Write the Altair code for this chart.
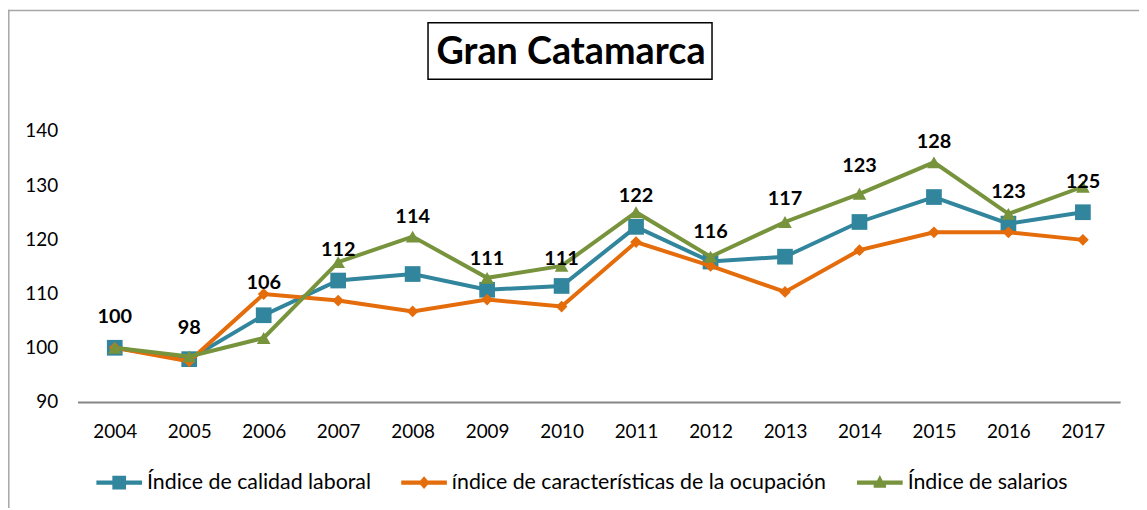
import altair as alt
import pandas as pd

# ---------------- data ----------------
years = ["2004", "2005", "2006", "2007", "2008", "2009", "2010",
         "2011", "2012", "2013", "2014", "2015", "2016", "2017"]
calidad = [100.0, 97.9, 106.0, 112.4, 113.6, 110.7, 111.4,
           122.3, 115.9, 116.8, 123.2, 127.8, 122.9, 125.0]
caracteristicas = [100.0, 97.5, 109.9, 108.7, 106.7, 108.9, 107.6,
                   119.5, 115.1, 110.3, 118.0, 121.3, 121.3, 119.9]
salarios = [100.0, 98.4, 101.8, 115.8, 120.5, 112.9, 115.1,
            125.0, 116.8, 123.2, 128.4, 134.2, 124.7, 129.7]
# printed data labels (values of the calidad series) and where they sit
label_values = [100, 98, 106, 112, 114, 111, 111, 122, 116, 117, 123, 128, 123, 125]
label_pos = [105.6, 103.7, 112.0, 118.0, 124.1, 116.4, 116.4,
             127.9, 121.4, 127.4, 133.6, 138.0, 128.8, 130.5]
series_names = ["Índice de calidad laboral",
                "índice de características de la ocupación",
                "Índice de salarios"]
y_ticks = [90, 100, 110, 120, 130, 140]
title_text = "Gran Catamarca"

# ---------------- styles ----------------
colors = ["#31859C", "#E46C0A", "#77933C"]
shapes = ["square", "diamond", "triangle-up"]
sizes = [250, 140, 190]
legend_paths = [
    "M-1,-0.09 L-0.3,-0.09 L-0.3,-0.3 L0.3,-0.3 L0.3,-0.09 L1,-0.09 L1,0.09 L0.3,0.09 L0.3,0.3 L-0.3,0.3 L-0.3,0.09 L-1,0.09 Z",
    "M-1,-0.09 L-0.16,-0.09 L0,-0.28 L0.16,-0.09 L1,-0.09 L1,0.09 L0.16,0.09 L0,0.28 L-0.16,0.09 L-1,0.09 Z",
    "M-1,-0.09 L-0.12,-0.09 L0,-0.34 L0.12,-0.09 L1,-0.09 L1,0.09 L0.27,0.09 L0.27,0.22 L-0.27,0.22 L-0.27,0.09 L-1,0.09 Z",
]
FONT = "Lato"

rows = []
for name, vals in zip(series_names, [calidad, caracteristicas, salarios]):
    for yr, v in zip(years, vals):
        rows.append({"year": yr, "value": v, "series": name})
df = pd.DataFrame(rows)
labels_df = pd.DataFrame({"year": years, "pos": label_pos, "label": label_values})
one = pd.DataFrame({"a": [0]})

color_scale = alt.Scale(domain=series_names, range=colors)

x_enc = alt.X("year:O", title=None, sort=years,
              axis=alt.Axis(labelAngle=0, ticks=False, tickSize=0, domainColor="#868686",
                            domainWidth=2, labelFont=FONT, labelFontSize=19,
                            labelColor="#000000", labelPadding=21, grid=False))
y_enc = alt.Y("value:Q", title=None,
              scale=alt.Scale(domain=[90, 140], nice=False, zero=False),
              axis=alt.Axis(values=y_ticks, domain=False, ticks=False, tickSize=0,
                            grid=False, labelFont=FONT, labelFontSize=19,
                            labelColor="#000000", labelPadding=20))

base = alt.Chart(df)
layers = []

# frame lines (decoration)
layers.append(alt.Chart(one).mark_rule(color="#A6A6A6", strokeWidth=1.5).encode(
    x=alt.value(-70), x2=alt.value(1069), y=alt.value(-121.2)))
layers.append(alt.Chart(one).mark_rule(color="#A6A6A6", strokeWidth=1.5).encode(
    x=alt.value(-69.2), y=alt.value(-122), y2=alt.value(380)))

for name, col, shp, sz in zip(series_names, colors, shapes, sizes):
    sub = base.transform_filter(alt.datum.series == name)
    layers.append(sub.mark_line(strokeWidth=4, color=col).encode(x=x_enc, y=y_enc))
    layers.append(sub.mark_point(shape=shp, filled=True, size=sz, opacity=1,
                                 color=col).encode(x=x_enc, y=y_enc))

legend_kw = dict(title=None, orient="none", legendX=19, legendY=331,
                 direction="horizontal", symbolSize=2116, symbolStrokeWidth=0,
                 labelFont=FONT, labelFontSize=21.5, labelColor="#000000",
                 columnPadding=30, labelOffset=5, labelLimit=0)
layers.append(base.transform_filter("false").mark_point(filled=True, opacity=1).encode(
    x=x_enc, y=y_enc,
    color=alt.Color("series:N", scale=color_scale, legend=alt.Legend(**legend_kw)),
    shape=alt.Shape("series:N", scale=alt.Scale(domain=series_names, range=legend_paths),
                    legend=alt.Legend(**legend_kw)),
))

# data labels
layers.append(alt.Chart(labels_df).mark_text(font=FONT, fontSize=20, fontWeight="bold",
                                             color="#000000").encode(
    x=x_enc,
    y=alt.Y("pos:Q", title=None),
    text=alt.Text("label:Q", format=".0f")))

# title box + title
layers.append(alt.Chart(one).mark_rect(fill="white", stroke="#000000", strokeWidth=1.5).encode(
    x=alt.value(353), x2=alt.value(639), y=alt.value(-109), y2=alt.value(-52)))
layers.append(alt.Chart(one).mark_text(font=FONT, fontSize=38, fontWeight="bold",
                                       color="#000000", align="center",
                                       baseline="alphabetic").encode(
    x=alt.value(497), y=alt.value(-67), text=alt.value(title_text)))

chart = alt.layer(*layers).properties(
    width=1050, height=273,
    padding={"left": 70, "top": 122, "right": 19, "bottom": 105},
    autosize=alt.AutoSizeParams(type="none"),
    background="white",
).configure_view(stroke=None)

chart.save("out.html", embed_options={"renderer": "svg", "actions": False})
